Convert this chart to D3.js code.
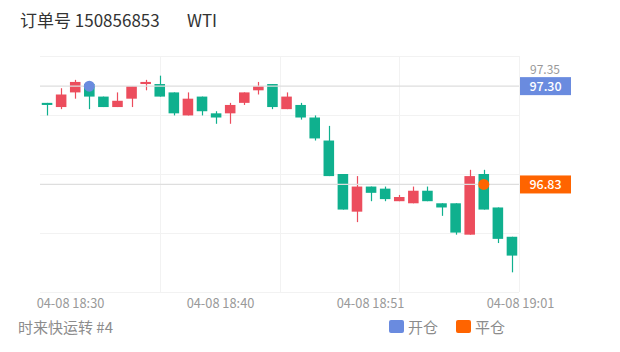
<!DOCTYPE html>
<html>
<head>
<meta charset="utf-8">
<script src="https://cdn.jsdelivr.net/npm/d3@7"></script>
<style>
  body { margin: 0; background: #fff; }
  text { font-family: "Noto Sans CJK SC", "Noto Sans", sans-serif; }
</style>
</head>
<body>
<div id="chart"></div>
<script>
// one candle per minute, WTI
const opens  = [97.22, 97.20, 97.27, 97.31, 97.25, 97.20, 97.24, 97.31, 97.31, 97.27, 97.16, 97.25, 97.17, 97.17, 97.22, 97.28, 97.31,
                97.19, 97.21, 97.15, 97.04, 96.88, 96.70, 96.82, 96.81, 96.75, 96.74, 96.80, 96.74, 96.74, 96.59, 96.88, 96.72, 96.58];
const closes = [97.21, 97.26, 97.32, 97.25, 97.20, 97.23, 97.30, 97.32, 97.25, 97.17, 97.24, 97.18, 97.15, 97.21, 97.27, 97.30, 97.20,
                97.25, 97.15, 97.05, 96.87, 96.71, 96.82, 96.79, 96.76, 96.77, 96.80, 96.75, 96.72, 96.60, 96.87, 96.71, 96.57, 96.49];
const highs  = [97.22, 97.29, 97.33, 97.32, 97.25, 97.27, 97.30, 97.33, 97.35, 97.27, 97.27, 97.25, 97.18, 97.22, 97.27, 97.32, 97.31,
                97.27, 97.22, 97.16, 97.11, 96.88, 96.87, 96.82, 96.82, 96.78, 96.82, 96.82, 96.74, 96.74, 96.90, 96.90, 96.72, 96.58];
const lows   = [97.16, 97.19, 97.24, 97.19, 97.20, 97.20, 97.20, 97.28, 97.25, 97.16, 97.16, 97.16, 97.12, 97.12, 97.21, 97.26, 97.19,
                97.19, 97.14, 97.04, 96.87, 96.71, 96.65, 96.75, 96.75, 96.75, 96.74, 96.75, 96.68, 96.59, 96.59, 96.71, 96.55, 96.41];

const xTickLabels = ["04-08 18:30", "04-08 18:40", "04-08 18:51", "04-08 19:01"];
const yTickValues = [97.35];

// open / close trade
const tradeNames = ["开仓", "平仓"];
const tradeIndex = [3, 31];
const tradePrice = [97.30, 96.83];

const titleText = "订单号 150856853";
const symbolText = "WTI";
const footText = "时来快运转 #4";

function drawKline(containerId) {
    const W = 620, H = 352;
    const margin = { top: 56, right: 101, bottom: 60, left: 40 },
        width = W - margin.left - margin.right,
        height = H - margin.top - margin.bottom;

    const upColor = "#ec4d5d", downColor = "#0fb08e";
    const tradeColors = ["#6a8bdf", "#ff6400"];

    d3.select(`#${containerId}`).selectAll("*").remove();

    const root = d3.select(`#${containerId}`)
        .append("svg")
        .attr("width", W)
        .attr("height", H);

    const svg = root.append("g")
        .attr("transform", `translate(${margin.left},${margin.top})`);

    const idx = d3.range(opens.length);

    // x: one band per candle
    const x = d3.scaleBand()
        .domain(idx)
        .range([0, width])
        .padding(0);

    // y: data range with 10% padding each side
    const lo = d3.min(lows), hi = d3.max(highs);
    const pad = (hi - lo) * 0.1;
    const y = d3.scaleLinear()
        .domain([lo - pad, hi + pad])
        .range([height, 0]);

    // horizontal grid
    svg.append("g")
        .selectAll("line")
        .data(d3.range(5))
        .join("line")
        .attr("x1", 0)
        .attr("x2", width)
        .attr("y1", d => Math.round(height * d / 4) + 0.5)
        .attr("y2", d => Math.round(height * d / 4) + 0.5)
        .attr("stroke", "#f2f2f2");

    // vertical grid
    svg.append("g")
        .selectAll("line")
        .data(d3.range(1, 5))
        .join("line")
        .attr("x1", d => Math.round(width * d / 4) + 0.5)
        .attr("x2", d => Math.round(width * d / 4) + 0.5)
        .attr("y1", 0)
        .attr("y2", height)
        .attr("stroke", "#f2f2f2");

    // Candles
    const bw = x.bandwidth() * 0.75;
    const cx = i => x(i) + x.bandwidth() / 2;
    const col = i => closes[i] > opens[i] ? upColor : downColor;

    svg.selectAll(".wick")
        .data(idx)
        .join("line")
        .attr("class", "wick")
        .attr("x1", d => Math.round(cx(d)) + 0.5)
        .attr("x2", d => Math.round(cx(d)) + 0.5)
        .attr("y1", d => y(highs[d]))
        .attr("y2", d => y(lows[d]))
        .attr("stroke", col)
        .attr("stroke-width", 1.2);

    svg.selectAll(".body")
        .data(idx)
        .join("rect")
        .attr("class", "body")
        .attr("x", d => cx(d) - bw / 2)
        .attr("y", d => y(Math.max(opens[d], closes[d])))
        .attr("width", bw)
        .attr("height", d => Math.max(1.5, Math.abs(y(opens[d]) - y(closes[d]))))
        .attr("fill", col);

    // trade price lines
    svg.selectAll(".tline")
        .data(tradePrice)
        .join("line")
        .attr("class", "tline")
        .attr("x1", 0)
        .attr("x2", width)
        .attr("y1", d => y(d))
        .attr("y2", d => y(d))
        .attr("stroke", "#dedede")
        .attr("stroke-width", 1.2);

    // trade markers on candles
    svg.selectAll(".tdot")
        .data(tradePrice)
        .join("circle")
        .attr("class", "tdot")
        .attr("cx", (d, i) => cx(tradeIndex[i]))
        .attr("cy", d => y(d))
        .attr("r", 5.5)
        .attr("fill", (d, i) => tradeColors[i]);

    // y axis label (right)
    svg.selectAll(".ylab")
        .data(yTickValues)
        .join("text")
        .attr("class", "ylab")
        .attr("x", width + 11)
        .attr("y", d => y(d) - 1.5)
        .attr("font-size", 12)
        .attr("fill", "#999")
        .text(d => d.toFixed(2));

    // price tags at right
    const tags = svg.selectAll(".tag")
        .data(tradePrice)
        .join("g")
        .attr("class", "tag")
        .attr("transform", d => `translate(${width + 1},${y(d)})`);
    tags.append("rect")
        .attr("x", 0)
        .attr("y", -9)
        .attr("width", 51)
        .attr("height", 18)
        .attr("fill", (d, i) => tradeColors[i]);
    tags.append("text")
        .attr("x", 25.5)
        .attr("y", 4.5)
        .attr("text-anchor", "middle")
        .attr("font-size", 12.5)
        .attr("font-weight", 500)
        .attr("fill", "#fff")
        .text(d => d.toFixed(2));

    // x axis labels
    const xl = d3.scalePoint()
        .domain(xTickLabels)
        .range([30, width + 1]);
    svg.append("g")
        .attr("transform", `translate(0, ${height})`)
        .call(d3.axisBottom(xl).tickSize(0).tickPadding(7))
        .call(g => g.select(".domain").remove())
        .call(g => g.selectAll("text")
            .attr("font-family", "'Noto Sans', sans-serif")
            .attr("font-size", 12.8)
            .attr("fill", "#999"));

    // title
    root.append("text")
        .attr("x", 20)
        .attr("y", 27)
        .attr("font-size", 17)
        .attr("fill", "#333")
        .text(titleText);
    root.append("text")
        .attr("x", 187)
        .attr("y", 27)
        .attr("font-size", 17)
        .attr("fill", "#333")
        .text(symbolText);

    // footer
    root.append("text")
        .attr("x", 18)
        .attr("y", 333)
        .attr("font-size", 15)
        .attr("fill", "#8c8c8c")
        .text(footText);

    // legend
    const leg = root.selectAll(".leg")
        .data(tradeNames)
        .join("g")
        .attr("class", "leg")
        .attr("transform", (d, i) => `translate(${389 + i * 67},320)`);
    leg.append("rect")
        .attr("width", 15)
        .attr("height", 13)
        .attr("rx", 2)
        .attr("fill", (d, i) => tradeColors[i]);
    leg.append("text")
        .attr("x", 19)
        .attr("y", 12.5)
        .attr("font-size", 15)
        .attr("fill", "#8c8c8c")
        .text(d => d);
}

drawKline("chart");
</script>
</body>
</html>
